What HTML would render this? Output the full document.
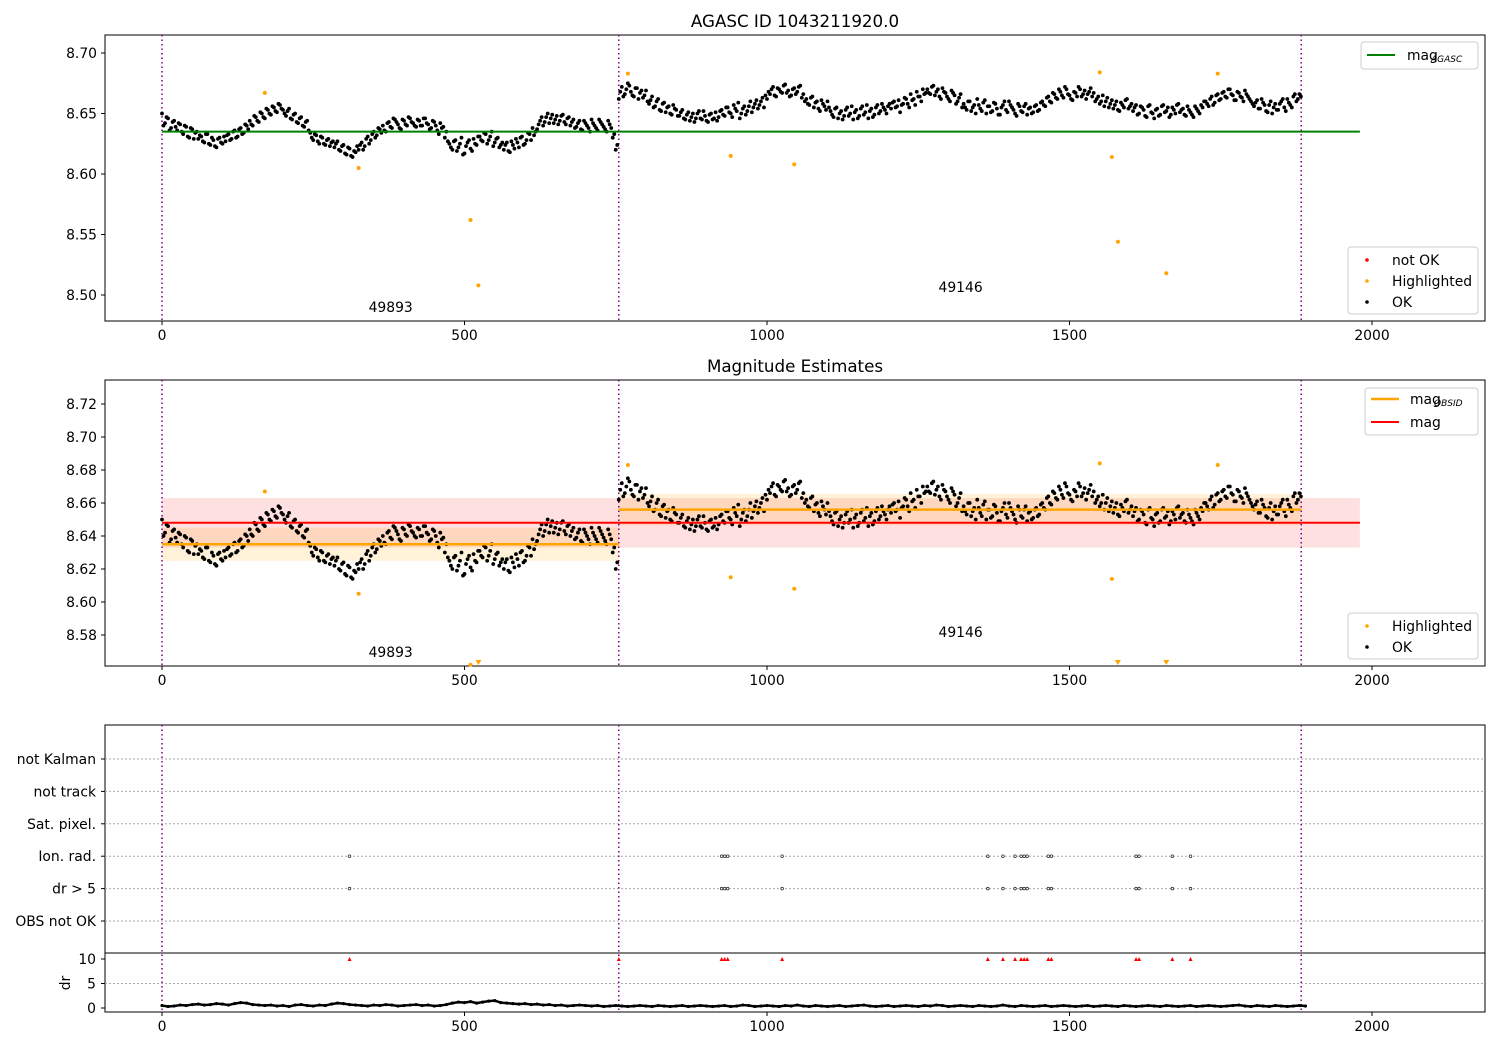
<!DOCTYPE html>
<html><head><meta charset="utf-8"><style>
body{margin:0;background:#fff}
svg text{font-family:"DejaVu Sans","Liberation Sans",sans-serif;fill:#000}
</style></head><body>
<svg id="fig" width="1500" height="1050" xmlns="http://www.w3.org/2000/svg"></svg>
<script>
// ---- data ----
const magStep = 5;
const magThousandths = [50,42,46,38,44, 36,41,33,39,30,37,34,29, 31,26,33,24,28,22,30,25, 27,33,29,36,31,38,34,40,
44,40,47,43,50,46,53,49,55,51,57,53, 48,54,45,50,42,47,39,44, 34,28,32,25,30,24,29,26, 22,27,19,24,16,21,14,18,
20,26,23,31,28,35,32,37, 40,35,43,38,45,41,37,44,40,46,42,39, 44,40,46,41,38,43,36,42,39,35, 25,20,28,22,30,17,26,21,29,24,
31,27,33,28,35,26,30,24, 20,26,18,24,29,22,31,25,34,28,32,37, 44,40,47,42,49,45,41,48,43,46,40,45,
39,44,36,42,38,45,40,36,43,39,35,41,30,20, 62,72,66,75,68,64,71,67,63,69, 58,64,56,62,52,59,55,50,57,53,
48,53,45,51,47,43,50,46,52,44,49,45,51,47, 53,48,55,50,57,52,46,54,49,56,51,58,54,60,55,62,
66,72,64,70,67,74,69,65,71,68,73,66, 62,57,64,59,54,61,56,60,
52,47,55,50,45,53,48,56,51,46,54,49,57,52,47,55,50,58,53,56, 54,60,56,51,58,62,55,61,57,64,60,66,
70,66,73,68,64,71,67,62,69,65,60,66, 58,53,60,55,50,57,52,61,56,51,59,54,49,57,53,60,55,50,58,52,56,49,55,51,57,53,
60,56,64,59,66,62,68,63,70,65,61,67,72,64,69,66,71,67, 62,58,65,60,55,61,57,53,59,55,62,56,
52,57,50,55,48,56,51,46,54,49,57,52,47,55,50,58,53,49,56,51,47,54,50,55,
60,56,64,59,66,62,68,63,70,65,61,67,63,69,64,60, 56,61,54,59,52,57,50,58,53,60,55,62,57,64,60,66];
const magThousandthsB = [40,47,36,43,39, 42,35,40,31,38,29,35,32, 27,33,25,30,23,29,26,31, 32,28,35,30,37,33,41,37,
41,48,44,51,47,54,50,56,52,58,54,50, 52,46,49,43,46,40,43,36, 30,33,27,31,25,28,23,27, 25,20,23,17,22,15,19,23,
24,20,29,25,33,30,38,34, 36,42,39,46,43,38,45,41,47,43,40,45, 40,46,42,37,44,40,33,38,30,27, 22,27,19,25,16,23,28,19,25,31,
28,34,25,31,23,29,22,26, 24,19,27,21,26,30,24,28,33,38,35,41, 47,43,50,46,42,48,44,49,41,47,43,38,
42,37,44,40,35,42,38,45,41,37,44,38,33,24, 68,64,70,73,65,71,62,69,65,60, 61,55,60,53,58,51,56,49,54,48,
51,46,49,44,50,46,52,45,48,43,50,46,44,52, 49,55,51,47,54,59,50,56,52,60,55,61,57,63,65,68,
70,65,71,68,73,67,64,70,66,72,63,60, 58,63,55,60,52,58,53,55,
49,54,46,52,48,55,50,45,53,48,56,51,46,54,49,57,52,55,50,58, 59,55,61,57,63,58,66,62,68,64,70,67,
67,72,65,70,62,68,64,60,67,58,63,55, 55,60,52,57,62,54,59,50,56,52,58,49,55,60,51,57,53,48,56,51,58,54,50,56,52,59,
57,63,60,67,63,70,65,72,66,62,68,64,70,66,62,68,64,60, 64,60,56,63,58,54,60,52,57,61,54,58,
55,49,56,53,47,57,50,53,48,56,51,55,49,53,57,51,54,48,53,49,56,52,57,60,
58,62,57,65,61,67,64,70,66,61,68,64,60,66,62,58, 59,54,62,57,51,60,55,53,58,62,52,59,55,66,62,64];
const hiIdx = [170,325,510,523,770,940,1045,1550,1570,1580,1660,1745];
const hiMag = [8.667,8.605,8.562,8.508,8.683,8.615,8.608,8.684,8.614,8.544,8.518,8.683];
const obsStart = [0,755];
const obsEnd = [755,1883];
const obsLabel = ["49893","49146"];
const obsMean = [8.635,8.656];
const obsStd = [0.010,0.0095];
const magAgasc = 8.635;
const magAll = 8.648, magAllStd = 0.015;
const eventIdx = [310,925,930,935,1025,1365,1390,1410,1420,1425,1430,1465,1470,1610,1615,1670,1700];
const categories = ["not Kalman","not track","Sat. pixel.","Ion. rad.","dr > 5","OBS not OK"];
const drStep = 10;
const drVals = [0.5,0.3,0.4,0.6,0.5,0.7,0.8,0.6,0.7,0.9,0.8,0.6,0.9,1.1,1.0,0.7,0.6,0.5,0.6,0.4,0.5,0.3,0.6,0.7,0.5,0.4,0.6,0.5,0.8,1.0,
0.9,0.7,0.6,0.5,0.4,0.6,0.5,0.7,0.6,0.4,0.5,0.6,0.7,0.5,0.6,0.4,0.5,0.7,1.0,1.2,1.1,1.3,1.0,1.2,1.4,1.5,1.1,1.0,0.9,0.8,
0.9,0.7,0.8,0.6,0.7,0.5,0.6,0.4,0.5,0.6,0.5,0.4,0.5,0.3,0.4,0.5,0.4,0.3,0.4,0.5,0.4,0.3,0.5,0.4,0.3,0.4,0.5,0.3,0.4,0.5,
0.4,0.3,0.4,0.5,0.3,0.4,0.6,0.5,0.3,0.4,0.5,0.4,0.3,0.5,0.4,0.6,0.4,0.3,0.5,0.4,0.3,0.4,0.5,0.3,0.4,0.5,0.6,0.4,0.3,0.4,
0.5,0.3,0.4,0.5,0.4,0.3,0.5,0.4,0.6,0.5,0.3,0.4,0.5,0.4,0.3,0.5,0.4,0.3,0.4,0.6,0.4,0.3,0.5,0.4,0.3,0.4,0.5,0.3,0.4,0.5,
0.4,0.3,0.4,0.5,0.3,0.4,0.5,0.4,0.3,0.5,0.4,0.3,0.4,0.5,0.4,0.3,0.5,0.4,0.3,0.4,0.5,0.3,0.4,0.5,0.4,0.3,0.4,0.5,0.6,
0.4,0.3,0.5,0.4,0.3,0.5,0.4,0.3,0.4,0.5,0.4];
const xTicks = [0,500,1000,1500,2000];
const y1Ticks = [8.50,8.55,8.60,8.65,8.70];
const y2Ticks = [8.58,8.60,8.62,8.64,8.66,8.68,8.70,8.72];
const drTicks = [0,5,10];

// ---- helpers ----
const S = document.getElementById('fig'), NS = "http://www.w3.org/2000/svg";
function el(tag, attrs, parent){const e=document.createElementNS(NS,tag);for(const k in attrs)e.setAttribute(k,attrs[k]);(parent||S).appendChild(e);return e;}
const XL=105, XR=1485;
const FS=13.9;
const sx = v => 162 + v*0.605;
const p1 = {top:35,bot:321, y: v => 53 + (8.70-v)*1210};
const p2 = {top:380,bot:666, y: v => 404 + (8.72-v)*1650};
const sdr = v => 1008 - v*4.9;
const catY = i => 759 + i*32.4;

function frame(top,bot,name){
  const r=el('rect',{x:XL,y:top,width:XR-XL,height:bot-top,fill:'none',stroke:'#000','stroke-width':1});
  
  
}
function xAxis(bot,name){
  const g=el('g',{});
  
  
  xTicks.forEach(t=>{el('line',{x1:sx(t),x2:sx(t),y1:bot,y2:bot+4,stroke:'#000'},g);
    const tx=el('text',{x:sx(t),y:bot+19,'font-size':FS,'text-anchor':'middle'},g);tx.textContent=t;});
}
function yAxis(ticks,fy,name,fmt){
  const g=el('g',{});
  
  
  ticks.forEach(t=>{el('line',{x1:XL-4,x2:XL,y1:fy(t),y2:fy(t),stroke:'#000'},g);
    const tx=el('text',{x:XL-8,y:fy(t)+5,'font-size':FS,'text-anchor':'end'},g);tx.textContent=fmt(t);});
}
function vlines(top,bot){
  [0,755,1883].forEach(v=>{const l=el('line',{x1:sx(v),x2:sx(v),y1:top,y2:bot,stroke:'#800080','stroke-width':1.5,'stroke-dasharray':'1.5,3'});
    
    });
}
function magPoints(fy,name){
  const g=el('g',{});
  
  
  magThousandths.forEach((m,i)=>{el('circle',{cx:sx(i*magStep),cy:fy(8.6+m/1000),r:1.9,fill:'#000'},g);});
  magThousandthsB.forEach((m,i)=>{el('circle',{cx:sx(i*magStep+2.5),cy:fy(8.6+m/1000),r:1.9,fill:'#000'},g);});
}
function hiPoints(fy,top,bot,name){
  const g=el('g',{});
  
  
  hiIdx.forEach((ix,i)=>{const y=fy(hiMag[i]);
    if(y>bot){el('path',{d:`M${sx(ix)-3},${bot-6}L${sx(ix)+3},${bot-6}L${sx(ix)},${bot-1}Z`,fill:'orange'},g);}
    else el('circle',{cx:sx(ix),cy:y,r:2,fill:'orange'},g);});
}
function text(x,y,s,sz,name,anchor){const t=el('text',{x:x,y:y,'font-size':sz,'text-anchor':anchor||'start'});t.textContent=s;
  
  return t;}
function legendBox(x,y,w,h,name){const r=el('rect',{x:x,y:y,width:w,height:h,rx:3,fill:'#fff','fill-opacity':0.85,stroke:'#ccc'});
  
  }

// ---- panel 1 ----
text(795,27,"AGASC ID 1043211920.0",16.7,'top-title','middle');
frame(p1.top,p1.bot,'agasc-plot-area');
vlines(p1.top,p1.bot);
magPoints(p1.y,'agasc-ok-points');
hiPoints(p1.y,p1.top,p1.bot,'agasc-highlighted-points');
const gl=el('line',{x1:sx(0),x2:sx(1980),y1:p1.y(magAgasc),y2:p1.y(magAgasc),stroke:'green','stroke-width':2});


text(sx(378),312,obsLabel[0],FS,'obs-label-49893','middle');
text(sx(1320),292,obsLabel[1],FS,'obs-label-49146','middle');
xAxis(p1.bot,'agasc-x-axis');
yAxis(y1Ticks,p1.y,'agasc-y-axis',t=>t.toFixed(2));
legendBox(1361,42,117,27,'agasc-legend-top');
el('line',{x1:1367,x2:1395,y1:55,y2:55,stroke:'green','stroke-width':2});
text(1407,60,"mag",FS,'legend-mag-agasc');
text(1431,62,"AGASC",9,'legend-mag-agasc-sub').setAttribute('font-style','italic');
legendBox(1348,247,130,67,'agasc-legend-bottom');
[['not OK','red',260],['Highlighted','orange',281],['OK','#000',302]].forEach(([s,c,y])=>{el('circle',{cx:1367,cy:y,r:1.8,fill:c});text(1392,y+5,s,FS,'legend-'+s.toLowerCase().replace(' ','-'));});

// ---- panel 2 ----
text(795,372,"Magnitude Estimates",16.7,'middle-title','middle');
frame(p2.top,p2.bot,'estimates-plot-area');
const band=el('rect',{x:sx(0),y:p2.y(magAll+magAllStd),width:sx(1980)-sx(0),height:p2.y(magAll-magAllStd)-p2.y(magAll+magAllStd),fill:'red','fill-opacity':0.12});


obsStart.forEach((s,i)=>{const b=el('rect',{x:sx(s),y:p2.y(obsMean[i]+obsStd[i]),width:sx(obsEnd[i])-sx(s),height:p2.y(obsMean[i]-obsStd[i])-p2.y(obsMean[i]+obsStd[i]),fill:'orange','fill-opacity':0.15});
  
  });
vlines(p2.top,p2.bot);
magPoints(p2.y,'estimates-ok-points');
hiPoints(p2.y,p2.top,p2.bot,'estimates-highlighted-points');
obsStart.forEach((s,i)=>{const l=el('line',{x1:sx(s),x2:sx(obsEnd[i]),y1:p2.y(obsMean[i]),y2:p2.y(obsMean[i]),stroke:'orange','stroke-width':2.5});
  
  });
const rl=el('line',{x1:sx(0),x2:sx(1980),y1:p2.y(magAll),y2:p2.y(magAll),stroke:'red','stroke-width':2});


text(sx(378),657,obsLabel[0],FS,'obs-label-49893-b','middle');
text(sx(1320),637,obsLabel[1],FS,'obs-label-49146-b','middle');
xAxis(p2.bot,'estimates-x-axis');
yAxis(y2Ticks,p2.y,'estimates-y-axis',t=>t.toFixed(2));
legendBox(1365,388,113,47,'estimates-legend-top');
el('line',{x1:1371,x2:1399,y1:399,y2:399,stroke:'orange','stroke-width':2.5});
text(1410,404,"mag",FS,'legend-mag-obsid');
text(1434,406,"OBSID",9,'legend-mag-obsid-sub').setAttribute('font-style','italic');
el('line',{x1:1371,x2:1399,y1:422,y2:422,stroke:'red','stroke-width':2});
text(1410,427,"mag",FS,'legend-mag');
legendBox(1348,613,130,46,'estimates-legend-bottom');
[['Highlighted','orange',626],['OK','#000',647]].forEach(([s,c,y])=>{el('circle',{cx:1367,cy:y,r:1.8,fill:c});text(1392,y+5,s,FS,'legend2-'+s.toLowerCase());});

// ---- panel 3 ----
frame(725,1012,'flags-plot-area');
el('line',{x1:XL,x2:XR,y1:953,y2:953,stroke:'#000'});
categories.forEach((c,i)=>{const l=el('line',{x1:XL,x2:XR,y1:catY(i),y2:catY(i),stroke:'#aaa','stroke-dasharray':'2,2'});
  
  
  el('line',{x1:XL-4,x2:XL,y1:catY(i),y2:catY(i),stroke:'#000'});
  text(XL-9,catY(i)+5,c,FS,'category-label','end');});
[5].forEach(v=>el('line',{x1:XL,x2:XR,y1:sdr(v),y2:sdr(v),stroke:'#aaa','stroke-dasharray':'2,2'}));
drTicks.forEach(t=>{el('line',{x1:XL-4,x2:XL,y1:sdr(t),y2:sdr(t),stroke:'#000'});text(XL-9,sdr(t)+5,t,FS,'dr-tick','end');});
const dl=text(70,983,"dr",FS,'dr-axis-title','middle');dl.setAttribute('transform','rotate(-90 70 983)');
vlines(725,1012);
const eg=el('g',{});


eventIdx.forEach(ix=>{[3,4].forEach(r=>el('circle',{cx:sx(ix),cy:catY(r),r:1.3,fill:'#fff',stroke:'#333','stroke-width':0.8},eg));
  el('path',{d:`M${sx(ix)-2},${sdr(10)+2}L${sx(ix)+2},${sdr(10)+2}L${sx(ix)},${sdr(10)-2}Z`,fill:'red'},eg);});
el('path',{d:`M${sx(755)-2},${sdr(10)+2}L${sx(755)+2},${sdr(10)+2}L${sx(755)},${sdr(10)-2}Z`,fill:'red'},eg);
const dg=el('g',{});


drVals.forEach((d,i)=>{el('circle',{cx:sx(i*drStep),cy:sdr(d),r:1.6,fill:'#000'},dg);
  if(i<drVals.length-1) el('line',{x1:sx(i*drStep),y1:sdr(d),x2:sx((i+1)*drStep),y2:sdr(drVals[i+1]),stroke:'#000','stroke-width':2.5},dg);});
xAxis(1012,'flags-x-axis');
</script>
</body></html>
